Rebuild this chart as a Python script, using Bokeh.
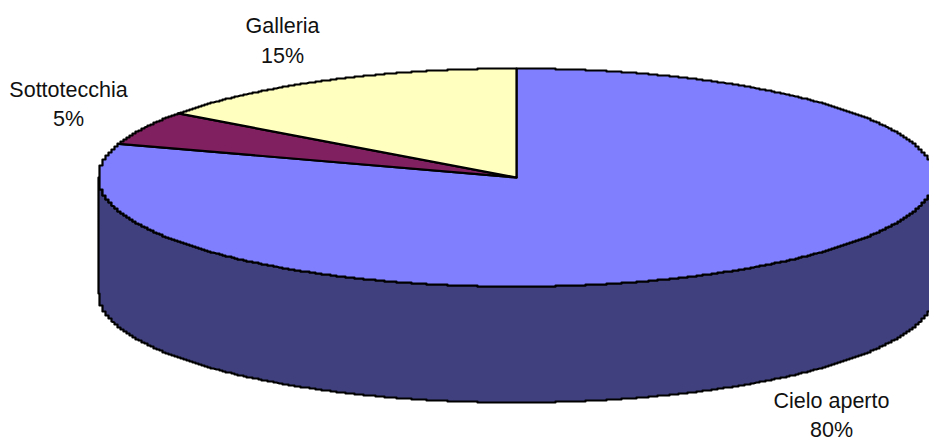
import numpy as np
from bokeh.core.properties import value
from bokeh.embed import file_html
from bokeh.models import ColumnDataSource, Range1d
from bokeh.plotting import figure
from bokeh.resources import INLINE

# Share of each category, clockwise from twelve o'clock
categories = ["Cielo aperto", "Sottotecchia", "Galleria"]
shares = [80, 5, 15]
top_colors = ["#8080FF", "#802060", "#FFFFC0"]
side_color = "#40407F"
label_lines = [(831, 400, 429), (68, 89, 118), (282, 25, 55)]

# Geometry of the tilted disc, in page pixels
CX, CY, RX, RY, DEPTH = 516, 177, 418, 109, 116
WIDTH, HEIGHT = 929, 438
SNAP_X, SNAP_Y = 3.0, 1.0


def build_rim():
    """Disc rim as a slightly stepped polyline, keeping each vertex's percentage."""
    pct = np.linspace(0, 100, 8000)
    t = np.radians(pct * 3.6)
    x = np.round((CX + RX * np.sin(t)) / SNAP_X) * SNAP_X
    y = np.round((CY - RY * np.cos(t)) / SNAP_Y) * SNAP_Y
    keep = np.r_[True, (np.diff(x) != 0) | (np.diff(y) != 0)]
    return pct[keep], x[keep], y[keep]


RIM_PCT, RIM_X, RIM_Y = build_rim()


def rim(start, stop):
    """Rim vertices between two percentages, closed off by the exact ends."""
    inside = (RIM_PCT > start) & (RIM_PCT < stop)
    a, b = np.radians(start * 3.6), np.radians(stop * 3.6)
    x = np.r_[CX + RX * np.sin(a), RIM_X[inside], CX + RX * np.sin(b)]
    y = np.r_[CY - RY * np.cos(a), RIM_Y[inside], CY - RY * np.cos(b)]
    return x, y


p = figure(
    width=WIDTH,
    height=HEIGHT,
    x_range=Range1d(0, WIDTH),
    y_range=Range1d(HEIGHT, 0),
    output_backend="svg",
    toolbar_location=None,
    min_border=0,
)
p.axis.visible = False
p.grid.visible = False
p.outline_line_color = None

# Front wall of the disc: the rim from the right extreme round to the left one
fx, fy = rim(25, 75)
wall_x = np.concatenate([fx, fx[::-1]])
wall_y = np.concatenate([fy, fy[::-1] + DEPTH])
p.patch(wall_x, wall_y, fill_color=side_color, line_color="black", line_width=2.2, line_join="round")

# Top face, one wedge per category
edges = np.cumsum([0] + shares)
xs, ys = [], []
for a, b in zip(edges[:-1], edges[1:]):
    rx, ry = rim(a, b)
    xs.append(np.concatenate([[CX], rx]).tolist())
    ys.append(np.concatenate([[CY], ry]).tolist())
p.patches(
    "xs",
    "ys",
    source=ColumnDataSource(dict(xs=xs, ys=ys, color=top_colors)),
    fill_color="color",
    line_color="black",
    line_width=2.2,
    line_join="round",
)

# Two-line labels: category name over its percentage
tx, ty, tt = [], [], []
for name, share, (x, y1, y2) in zip(categories, shares, label_lines):
    tx += [x, x]
    ty += [y1, y2]
    tt += [name, f"{share}%"]
p.text(
    tx,
    ty,
    text=tt,
    text_font=value("Liberation Sans"),
    text_font_size="21.5px",
    text_color="#111111",
    text_align="center",
    text_baseline="middle",
)

open("out.html", "w").write(file_html(p, INLINE))
